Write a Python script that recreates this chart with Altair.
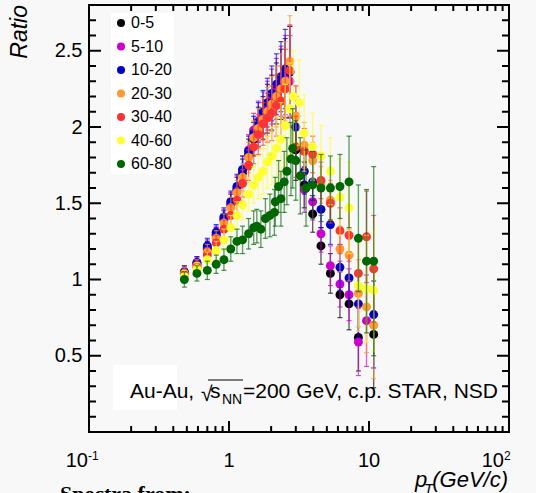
import altair as alt
import pandas as pd

# ---------------- data ----------------
cents = ["0-5", "5-10", "10-20", "20-30", "30-40", "40-60", "60-80"]
colors = ["#000000", "#cc00cc", "#0000cc", "#ff9933", "#ff3333", "#ffff33", "#006600"]

pt_rise = [0.48, 0.59, 0.70, 0.81, 0.92, 1.03, 1.14, 1.25, 1.38, 1.50, 1.62, 1.75,
           1.88, 2.02, 2.18, 2.35, 2.52, 2.72]
pt_fall = [3.0, 3.45, 3.96, 4.54, 5.3, 6.2, 7.2, 8.4, 9.6, 10.8]
pt_top = pt_rise + pt_fall

r_0_5 = [1.04, 1.10, 1.20, 1.29, 1.39, 1.49, 1.59, 1.70, 1.82, 1.92, 2.00, 2.06, 2.12, 2.16, 2.22, 2.28, 2.32, 2.36,
         1.85, 1.62, 1.43, 1.22, 1.04, 0.90, 0.84, 0.62, None, 0.64]
r_5_10 = [1.05, 1.11, 1.21, 1.30, 1.40, 1.50, 1.60, 1.72, 1.85, 1.98, 2.04, 2.09, 2.14, 2.20, 2.25, 2.30, 2.34, 2.30,
          2.07, 1.59, 1.51, 1.30, 1.09, 0.97, 0.90, 0.59, 0.73, None]
r_10_20 = [1.05, 1.11, 1.22, 1.31, 1.41, 1.51, 1.61, 1.72, 1.84, 1.96, 2.03, 2.10, 2.16, 2.22, 2.28, 2.33, 2.38, 2.36,
           2.00, 1.71, 1.64, 1.46, 1.36, 1.08, 1.01, 0.84, None, 0.77]
r_20_30 = [1.04, 1.09, 1.18, 1.27, 1.37, 1.47, 1.57, 1.67, 1.80, 1.93, 1.99, 2.05, 2.10, 2.15, 2.20, 2.25, 2.30, 2.43,
           2.07, 1.88, 1.78, 1.62, 1.52, 1.20, 1.16, 0.91, 0.82, 0.70]
r_30_40 = [1.03, 1.08, 1.16, 1.24, 1.33, 1.42, 1.52, 1.63, 1.75, 1.87, 1.95, 2.02, 2.06, 2.09, 2.14, 2.17, 2.25, 2.37,
           1.87, 1.84, 1.82, 1.65, 1.50, 1.32, 1.29, 1.04, 1.28, 1.07]
err_top = [0.04, 0.04, 0.05, 0.05, 0.06, 0.07, 0.08, 0.09, 0.10, 0.11, 0.13, 0.14, 0.16, 0.18, 0.20, 0.23, 0.26, 0.30,
           0.20, 0.15, 0.12, 0.12, 0.13, 0.15, 0.17, 0.22, 0.30, 0.35]

pt_40_60 = pt_rise + [2.88, 3.18, 3.45, 3.96, 4.54, 5.3, 6.2, 7.2, 8.4, 9.6, 10.8]
r_40_60 = [1.02, 1.07, 1.13, 1.19, 1.26, 1.34, 1.42, 1.49, 1.56, 1.62, 1.67, 1.71, 1.77, 1.81, 1.86, 1.92, 2.01, 2.12,
           2.20, 2.16, 1.96, 1.87, 1.81, 1.71, 1.54, 1.47, 0.96, 0.94, 0.93]
err_40_60 = [0.04, 0.04, 0.05, 0.06, 0.07, 0.08, 0.09, 0.10, 0.11, 0.12, 0.14, 0.15, 0.17, 0.19, 0.21, 0.24, 0.27, 0.30,
             0.30, 0.28, 0.25, 0.22, 0.20, 0.22, 0.25, 0.30, 0.30, 0.35, 0.40]

pt_60_80 = [0.48, 0.59, 0.70, 0.81, 0.92, 1.03, 1.14, 1.25, 1.38, 1.50, 1.58, 1.69, 1.82, 1.96, 2.11, 2.14,
            2.26, 2.35, 2.48, 2.59, 2.77, 2.85, 3.0, 3.23, 3.55, 3.96, 4.54, 5.3, 6.2, 7.2, 8.4, 9.6, 10.8]
r_60_80 = [1.00, 1.04, 1.06, 1.10, 1.13, 1.20, 1.25, 1.26, 1.30, 1.34, 1.35, 1.33, 1.40, 1.42, 1.44, 1.51,
           1.61, 1.53, 1.64, 1.71, 1.79, 1.86, 1.78, 1.68, 1.60, 1.62, 1.60, 1.60, 1.61, 1.64, 1.27, 1.12, 1.12]
err_60_80 = [0.05, 0.05, 0.06, 0.06, 0.07, 0.08, 0.08, 0.09, 0.10, 0.11, 0.11, 0.12, 0.13, 0.14, 0.15, 0.16,
             0.17, 0.18, 0.20, 0.22, 0.24, 0.26, 0.26, 0.25, 0.25, 0.22, 0.22, 0.21, 0.21, 0.30, 0.35, 0.47, 0.62]

series = [
    ("0-5", pt_top, r_0_5, err_top),
    ("5-10", pt_top, r_5_10, err_top),
    ("10-20", pt_top, r_10_20, err_top),
    ("20-30", pt_top, r_20_30, err_top),
    ("30-40", pt_top, r_30_40, err_top),
    ("40-60", pt_40_60, r_40_60, err_40_60),
    ("60-80", pt_60_80, r_60_80, err_60_80),
]

rows = []
for cent, pts, rs, es in series:
    for p, r, e in zip(pts, rs, es):
        if r is None:
            continue
        rows.append({"cent": cent, "pt": p, "r": r, "lo": r - e, "hi": r + e})
df = pd.DataFrame(rows)

x_major = [0.1, 1, 10, 100]
x_minor = [0.2, 0.3, 0.4, 0.5, 0.6, 0.7, 0.8, 0.9, 2, 3, 4, 5, 6, 7, 8, 9,
           20, 30, 40, 50, 60, 70, 80, 90]
y_major = [0.5, 1.0, 1.5, 2.0, 2.5]
y_minor = [0.1, 0.2, 0.3, 0.4, 0.6, 0.7, 0.8, 0.9, 1.1, 1.2, 1.3, 1.4, 1.6, 1.7, 1.8, 1.9,
           2.1, 2.2, 2.3, 2.4, 2.6, 2.7]

# ---------------- chart ----------------
W, H = 420, 427
XMIN, XMAX, YMIN, YMAX = 0.1, 100, 0.0, 2.8
FONT = "Liberation Sans"
xs = alt.Scale(type="log", domain=[XMIN, XMAX], nice=False)
ys = alt.Scale(domain=[YMIN, YMAX], nice=False, zero=False)
yaxis = alt.Axis(values=y_major, format="~g", labelFontSize=20, labelFont=FONT, labelColor="black",
                 ticks=False, tickSize=0, domain=False, grid=False, labelPadding=7, title=None)
cscale = alt.Scale(domain=cents, range=colors)

one = pd.DataFrame({"a": [0]})
layers = []

# frame: four edges
for (xa, xb, ya, yb) in [(0, W, 0, None), (0, W, H, None), (0, None, 0, H), (W, None, 0, H)]:
    enc = {"x": alt.value(xa), "y": alt.value(ya)}
    if xb is not None:
        enc["x2"] = alt.value(xb)
    if yb is not None:
        enc["y2"] = alt.value(yb)
    layers.append(alt.Chart(one).mark_rule(color="black", strokeWidth=2).encode(**enc))


# frame ticks (inward)
def xticks(vals, length):
    d = alt.Chart(pd.DataFrame({"v": vals}))
    X = alt.X("v:Q", scale=xs, axis=None)
    bot = d.mark_rule(color="black", strokeWidth=2).encode(
        x=X, y=alt.value(H - length), y2=alt.value(H))
    top = d.mark_rule(color="black", strokeWidth=2).encode(
        x=X, y=alt.value(0), y2=alt.value(length))
    return [bot, top]


def yticks(vals, length):
    d = alt.Chart(pd.DataFrame({"v": vals}))
    Y = alt.Y("v:Q", scale=ys, axis=yaxis)
    left = d.mark_rule(color="black", strokeWidth=2).encode(
        y=Y, x=alt.value(0), x2=alt.value(length))
    right = d.mark_rule(color="black", strokeWidth=2).encode(
        y=Y, x=alt.value(W - length), x2=alt.value(W))
    return [left, right]


layers += xticks(x_major, 11) + xticks(x_minor, 6) + yticks(y_major, 12) + yticks(y_minor, 7)

for i, (cent, _, _, _) in enumerate(series):
    col = colors[i]
    base = alt.Chart(df).transform_filter(alt.datum.cent == cent)
    X = alt.X("pt:Q", scale=xs, axis=None)
    layers.append(base.mark_rule(color=col, opacity=0.6, strokeWidth=1.4).encode(
        x=X, y=alt.Y("lo:Q", scale=ys, axis=yaxis), y2="hi:Q"))
    layers.append(base.mark_tick(orient="horizontal", color=col, size=5, thickness=1.2, opacity=0.7).encode(
        x=X, y=alt.Y("lo:Q", scale=ys, axis=yaxis)))
    layers.append(base.mark_tick(orient="horizontal", color=col, size=5, thickness=1.2, opacity=0.7).encode(
        x=X, y=alt.Y("hi:Q", scale=ys, axis=yaxis)))
    layers.append(base.mark_circle(size=80, opacity=1).encode(
        x=X, y=alt.Y("r:Q", scale=ys, axis=yaxis),
        color=alt.Color("cent:N", scale=cscale, legend=alt.Legend(title=None))))


def txt(text, **kw):
    return alt.Chart(pd.DataFrame({"t": [text]})).mark_text(**kw)


def xlab(v, main, sup, dx_main):
    d = alt.Chart(pd.DataFrame({"v": [v], "t": [main], "s": [sup]}))
    X = alt.X("v:Q", scale=xs, axis=None)
    out = []
    if sup:
        out.append(d.mark_text(font=FONT, fontSize=20, align="right", baseline="alphabetic", dx=dx_main,
                               color="black").encode(x=X, y=alt.value(462), text="t:N"))
        out.append(d.mark_text(font=FONT, fontSize=12, align="left", baseline="alphabetic", dx=dx_main,
                               color="black").encode(x=X, y=alt.value(455), text="s:N"))
    else:
        out.append(d.mark_text(font=FONT, fontSize=20, align="center", baseline="alphabetic",
                               color="black").encode(x=X, y=alt.value(462), text="t:N"))
    return out


layers += xlab(0.1, "10", "-1", -1) + xlab(1, "1", "", 0) + xlab(10, "10", "", 0) + xlab(100, "10", "2", -5)

# axis titles
layers.append(txt("Ratio", font=FONT, fontSize=23, fontStyle="italic", angle=270, align="right",
                  baseline="alphabetic", color="black").encode(x=alt.value(-62), y=alt.value(0), text="t:N"))
layers.append(txt("(GeV/c)", font=FONT, fontSize=22, fontStyle="italic", align="right",
                  baseline="alphabetic", color="black").encode(x=alt.value(419), y=alt.value(482), text="t:N"))
layers.append(txt("p", font=FONT, fontSize=22, fontStyle="italic", align="left",
                  baseline="alphabetic", color="black").encode(x=alt.value(326), y=alt.value(482), text="t:N"))
layers.append(txt("T", font=FONT, fontSize=15, fontStyle="italic", align="left",
                  baseline="alphabetic", color="black").encode(x=alt.value(335), y=alt.value(489), text="t:N"))
layers.append(txt("Spectra from:", font="Liberation Serif", fontSize=22, fontWeight="bold", align="left",
                  baseline="alphabetic", color="black").encode(x=alt.value(-29), y=alt.value(496), text="t:N"))

# annotation
layers.append(alt.Chart(one).mark_rect(color="white").encode(
    x=alt.value(24), x2=alt.value(88), y=alt.value(360), y2=alt.value(405)))
layers.append(txt("Au-Au,", font=FONT, fontSize=21, align="left", baseline="alphabetic",
                  color="black").encode(x=alt.value(41), y=alt.value(393), text="t:N"))
layers.append(txt("√", font=FONT, fontSize=21, align="left", baseline="alphabetic",
                  color="black").encode(x=alt.value(112), y=alt.value(396), text="t:N"))
layers.append(alt.Chart(one).mark_rule(color="black", strokeWidth=1).encode(
    x=alt.value(119), x2=alt.value(154), y=alt.value(375)))
layers.append(txt("s", font=FONT, fontSize=21, align="left", baseline="alphabetic",
                  color="black").encode(x=alt.value(121), y=alt.value(393), text="t:N"))
layers.append(txt("NN", font=FONT, fontSize=14, align="left", baseline="alphabetic",
                  color="black").encode(x=alt.value(133), y=alt.value(399), text="t:N"))
layers.append(txt("=200 GeV, c.p. STAR, NSD", font=FONT, fontSize=21, align="left", baseline="alphabetic",
                  color="black").encode(x=alt.value(154), y=alt.value(393), text="t:N"))

chart = alt.layer(*layers).properties(
    width=W, height=H,
    autosize=alt.AutoSizeParams(type="none"),
    padding={"left": 89, "top": 5, "right": 27, "bottom": 61},
    background="#f8f8f8",
).configure_view(
    stroke="black", strokeWidth=2
).configure_legend(
    orient="none", legendX=22, legendY=8, fillColor="white", padding=2,
    labelFont=FONT, labelFontSize=16, labelColor="black", labelOffset=2,
    symbolType="circle", symbolSize=64, symbolOpacity=1, symbolStrokeWidth=0, rowPadding=7.5,
)

chart.save("out.html", embed_options={"renderer": "svg", "actions": False})
